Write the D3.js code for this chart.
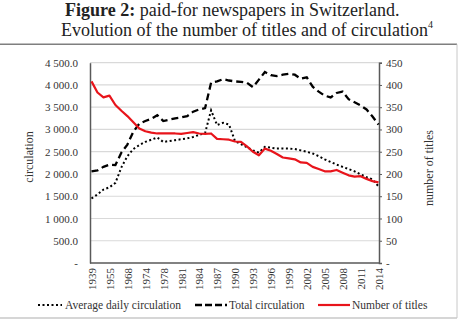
<!DOCTYPE html>
<html>
<head>
<meta charset="utf-8">
<script src="https://cdn.jsdelivr.net/npm/d3@7"></script>
<style>
  html, body { margin: 0; padding: 0; background: #fff; }
  svg { display: block; font-family: "Liberation Serif", "Times New Roman", serif; }
</style>
</head>
<body>
<svg id="chart" width="463" height="320"></svg>
<script>
// ---- data ----
const years = [1939, 1945, 1950, 1955, 1960, 1965, 1968, 1970, 1972, 1974, 1976, 1977,
  1978, 1979, 1980, 1981, 1982, 1983, 1984, 1985, 1986, 1987, 1988, 1989, 1990, 1991,
  1992, 1993, 1994, 1995, 1996, 1997, 1998, 1999, 2000, 2001, 2002, 2003, 2004, 2005,
  2006, 2007, 2008, 2009, 2010, 2011, 2012, 2013, 2014];
const tickYears = [1939, 1955, 1968, 1974, 1978, 1981, 1984, 1987, 1990, 1993, 1996,
  1999, 2002, 2005, 2008, 2011, 2014];
const averageDaily = [1450, 1540, 1650, 1700, 1800, 2150, 2400, 2560, 2650, 2720, 2770, 2820,
  2720, 2740, 2760, 2780, 2800, 2830, 2880, 2920, 3430, 3100, 3150, 3110, 2740, 2670,
  2600, 2530, 2480, 2610, 2590, 2570, 2575, 2570, 2560, 2530, 2500, 2460, 2400, 2330,
  2270, 2210, 2160, 2110, 2060, 1990, 1930, 1880, 1720];
const totalCirc = [2060, 2080, 2160, 2210, 2200, 2480, 2660, 2950, 3130, 3190, 3240, 3320,
  3190, 3220, 3250, 3270, 3300, 3400, 3450, 3480, 4050, 4080, 4130, 4100, 4080, 4070,
  4050, 3950, 4120, 4290, 4220, 4200, 4230, 4250, 4230, 4140, 4170, 3960, 3850, 3760,
  3720, 3820, 3850, 3680, 3610, 3540, 3450, 3290, 3110];
const titles = [408, 383, 372, 376, 355, 342, 330, 316, 302, 296, 293, 291,
  291, 291, 291, 290, 292, 294, 291, 290, 291, 279, 278, 277, 273, 272,
  262, 250, 242, 257, 252, 245, 237, 235, 233, 226, 225, 216, 211, 206,
  206, 209, 203, 197, 194, 195, 189, 184, 181];
const leftTicks = [0, 500, 1000, 1500, 2000, 2500, 3000, 3500, 4000, 4500];
const rightTicks = [0, 50, 100, 150, 200, 250, 300, 350, 400, 450];
const seriesNames = ["Average daily circulation", "Total circulation", "Number of titles"];

// ---- layout ----
const svg = d3.select("#chart");
const L = 90, R = 379, T = 62.7, B = 263;

// frame
svg.append("line").attr("x1", 0).attr("x2", 457).attr("y1", 44.3).attr("y2", 44.3)
  .attr("stroke", "#7f7f7f").attr("stroke-width", 1.5);
svg.append("line").attr("x1", 457).attr("x2", 457).attr("y1", 44.3).attr("y2", 318)
  .attr("stroke", "#c8c8c8").attr("stroke-width", 1);
svg.append("line").attr("x1", 0).attr("x2", 457).attr("y1", 318).attr("y2", 318)
  .attr("stroke", "#c8c8c8").attr("stroke-width", 1.5);

// title
const t1 = svg.append("text").attr("x", 65).attr("y", 16).attr("font-size", 18).attr("fill", "#222");
t1.append("tspan").attr("font-weight", "bold").text("Figure 2:");
t1.append("tspan").text(" paid-for newspapers in Switzerland.");
const t2 = svg.append("text").attr("x", 61).attr("y", 36).attr("font-size", 18).attr("fill", "#222");
t2.append("tspan").text("Evolution of the number of titles and of circulation");
t2.append("tspan").attr("font-size", 10).attr("dy", -8).text("4");

// scales
const x = d3.scalePoint().domain(years).range([L + 1.5, R - 0.5]);
const yL = d3.scaleLinear().domain([0, 4500]).range([B, T]);
const yR = d3.scaleLinear().domain([0, 450]).range([B, T]);

// gridlines
svg.append("g").selectAll("line").data(leftTicks.filter(d => d > 0)).join("line")
  .attr("x1", L).attr("x2", R).attr("y1", d => yL(d)).attr("y2", d => yL(d))
  .attr("stroke", "#d9d9d9").attr("stroke-width", 1.2);

// left axis
const fmt = d => d === 0 ? "-" : d3.format(",.1f")(d).replace(/,/g, " ");
const gL = svg.append("g").attr("transform", `translate(${L},0)`)
  .call(d3.axisLeft(yL).tickValues(leftTicks).tickFormat(fmt).tickSize(0).tickPadding(12));
gL.select(".domain").attr("stroke", "#595959").attr("stroke-width", 1.5);
gL.selectAll("text").attr("font-family", "Liberation Serif").attr("font-size", 11).attr("fill", "#333");

// right axis
const gR = svg.append("g").attr("transform", `translate(${R},0)`)
  .call(d3.axisRight(yR).tickValues(rightTicks).tickFormat(d => d === 0 ? "-" : d).tickSize(3).tickPadding(4));
gR.select(".domain").attr("stroke", "#595959").attr("stroke-width", 1.5);
gR.selectAll(".tick line").attr("stroke", "#595959");
gR.selectAll("text").attr("font-family", "Liberation Serif").attr("font-size", 11).attr("fill", "#333");

// bottom axis
const gB = svg.append("g").attr("transform", `translate(0,${B})`)
  .call(d3.axisBottom(x).tickValues(tickYears).tickSize(0).tickPadding(0));
gB.select(".domain").attr("stroke", "#595959").attr("stroke-width", 1.5)
  .attr("d", `M${L},0H${R}`);
gB.selectAll("text").attr("font-family", "Liberation Serif").attr("font-size", 11).attr("fill", "#333")
  .attr("transform", "rotate(-90)").attr("text-anchor", "end")
  .attr("x", -5).attr("y", 0).attr("dy", "0.35em");

// axis titles
svg.append("text").attr("transform", "translate(33,157) rotate(-90)")
  .attr("text-anchor", "middle").attr("font-size", 12).attr("fill", "#333").text("circulation");
svg.append("text").attr("transform", "translate(433,168) rotate(-90)")
  .attr("text-anchor", "middle").attr("font-size", 12).attr("fill", "#333").text("number of titles");

// lines
const lineL = d3.line().x((d, i) => x(years[i])).y(d => yL(d));
const lineR = d3.line().x((d, i) => x(years[i])).y(d => yR(d));
svg.append("path").datum(averageDaily).attr("d", lineL).attr("fill", "none")
  .attr("stroke", "#000").attr("stroke-width", 2).attr("stroke-dasharray", "2,2.5");
svg.append("path").datum(totalCirc).attr("d", lineL).attr("fill", "none")
  .attr("stroke", "#000").attr("stroke-width", 2.3).attr("stroke-dasharray", "7,4");
svg.append("path").datum(titles).attr("d", lineR).attr("fill", "none")
  .attr("stroke", "#e8141b").attr("stroke-width", 2.2).attr("stroke-linejoin", "round");

// legend
const legY = 305;
const leg = [
  { name: seriesNames[0], x1: 38, x2: 62, tx: 65, dash: "2,2.5", color: "#000", w: 2 },
  { name: seriesNames[1], x1: 195, x2: 227, tx: 229, dash: "7,3", color: "#000", w: 2.3 },
  { name: seriesNames[2], x1: 318, x2: 350, tx: 352, dash: null, color: "#e8141b", w: 2.2 }
];
const lg = svg.append("g").selectAll("g").data(leg).join("g");
lg.append("line").attr("x1", d => d.x1).attr("x2", d => d.x2).attr("y1", legY).attr("y2", legY)
  .attr("stroke", d => d.color).attr("stroke-width", d => d.w)
  .attr("stroke-dasharray", d => d.dash);
lg.append("text").attr("x", d => d.tx).attr("y", legY + 4).attr("font-size", 11.5).attr("fill", "#333")
  .text(d => d.name);
</script>
</body>
</html>
